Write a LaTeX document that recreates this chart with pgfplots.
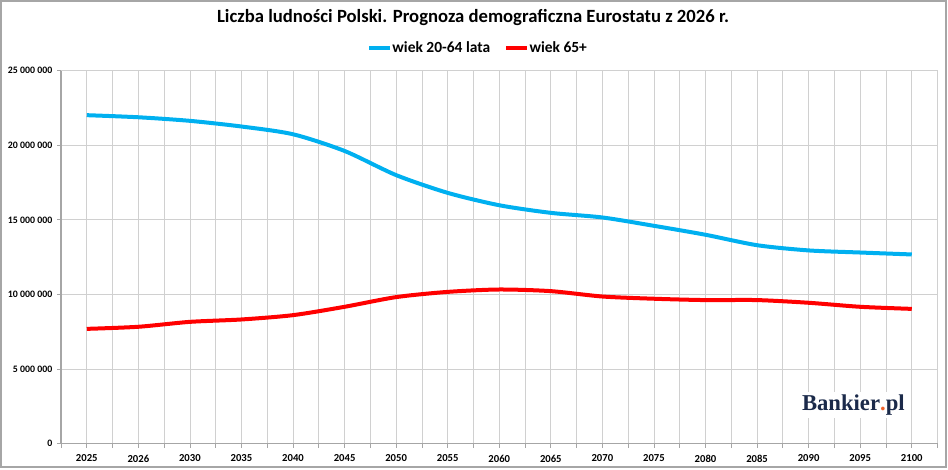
\documentclass[border=0pt]{standalone}
\usepackage{pgfplots}
\pgfplotsset{compat=1.18}
\usepackage{fontspec}
\setmainfont{Carlito}
\newfontfamily\logofont{Liberation Serif}
\definecolor{cblue}{HTML}{00B0F0}
\definecolor{cred}{HTML}{FF0000}
\definecolor{gridc}{HTML}{D0D0D0}
\definecolor{axc}{HTML}{A6A6A6}
\definecolor{navy}{HTML}{1B2A4A}
\definecolor{logoorange}{HTML}{F0642D}
\begin{document}
\begin{tikzpicture}
\useasboundingbox (0,0) rectangle (711pt,351.75pt);
\draw[color=axc, line width=0.8pt] (0.75pt,1.5pt) rectangle (709.5pt,351pt);
\begin{axis}[
  at={(45.75pt,19.1pt)}, anchor=south west,
  scale only axis, width=657.4pt, height=279.6pt,
  xmin=-0.5, xmax=16.5, ymin=0, ymax=25000000,
  xtick={0,...,16},
  xticklabels={2025,2026,2030,2035,2040,2045,2050,2055,2060,2065,2070,2075,2080,2085,2090,2095,2100},
  minor xtick={-0.5,0.5,...,16.5},
  ytick={0,5000000,10000000,15000000,20000000,25000000},
  yticklabels={0,5 000 000,10 000 000,15 000 000,20 000 000,25 000 000},
  xmajorgrids, xminorgrids, ymajorgrids,
  grid style={color=gridc, line width=0.6pt},
  minor grid style={color=gridc, line width=0.6pt},
  axis x line*=bottom, axis y line*=left,
  axis line style={color=axc, line width=0.8pt, -},
  tick align=outside,
  major tick length=3pt, minor tick length=3pt,
  tick style={color=axc, line width=0.6pt},
  xticklabel style={font=\fontsize{8}{9}\selectfont\bfseries, yshift=-2pt},
  yticklabel style={font=\fontsize{7.4}{8}\selectfont\bfseries},
  scaled y ticks=false,
  legend columns=2,
  legend style={at={(0.475,1.061)}, anchor=center, draw=none, fill=none,
    font=\fontsize{11.6}{13}\selectfont\bfseries,
    nodes={inner xsep=0.5pt},
    /tikz/every even column/.append style={column sep=10pt}},
  legend image code/.code={\draw[#1, line width=3pt] (0pt,0pt) -- (15.5pt,0pt);},
  clip=false,
]
\addplot[cblue, line width=3pt, smooth, tension=0.45] coordinates {
(0,22020000) (1,21880000) (2,21640000) (3,21260000) (4,20740000) (5,19620000)
(6,18000000) (7,16810000) (8,15980000) (9,15470000) (10,15160000) (11,14600000)
(12,14000000) (13,13300000) (14,12950000) (15,12810000) (16,12680000)};
\addlegendentry{wiek 20-64 lata}
\addplot[cred, line width=3pt, smooth, tension=0.45] coordinates {
(0,7690000) (1,7830000) (2,8160000) (3,8320000) (4,8610000) (5,9170000)
(6,9820000) (7,10170000) (8,10330000) (9,10220000) (10,9860000) (11,9710000)
(12,9620000) (13,9620000) (14,9440000) (15,9170000) (16,9030000)};
\addlegendentry{wiek 65+}
\end{axis}
\node[font=\fontsize{14}{16}\selectfont\bfseries] at (354.75pt,338.5pt) {Liczba ludności Polski. Prognoza demograficzna Eurostatu z 2026 r.};
\node[fill=white, inner sep=2pt, font=\logofont\bfseries\fontsize{17}{18}\selectfont, text=navy] at (640pt,48pt) {Bankier\textcolor{logoorange}{.}pl};
\end{tikzpicture}
\end{document}
